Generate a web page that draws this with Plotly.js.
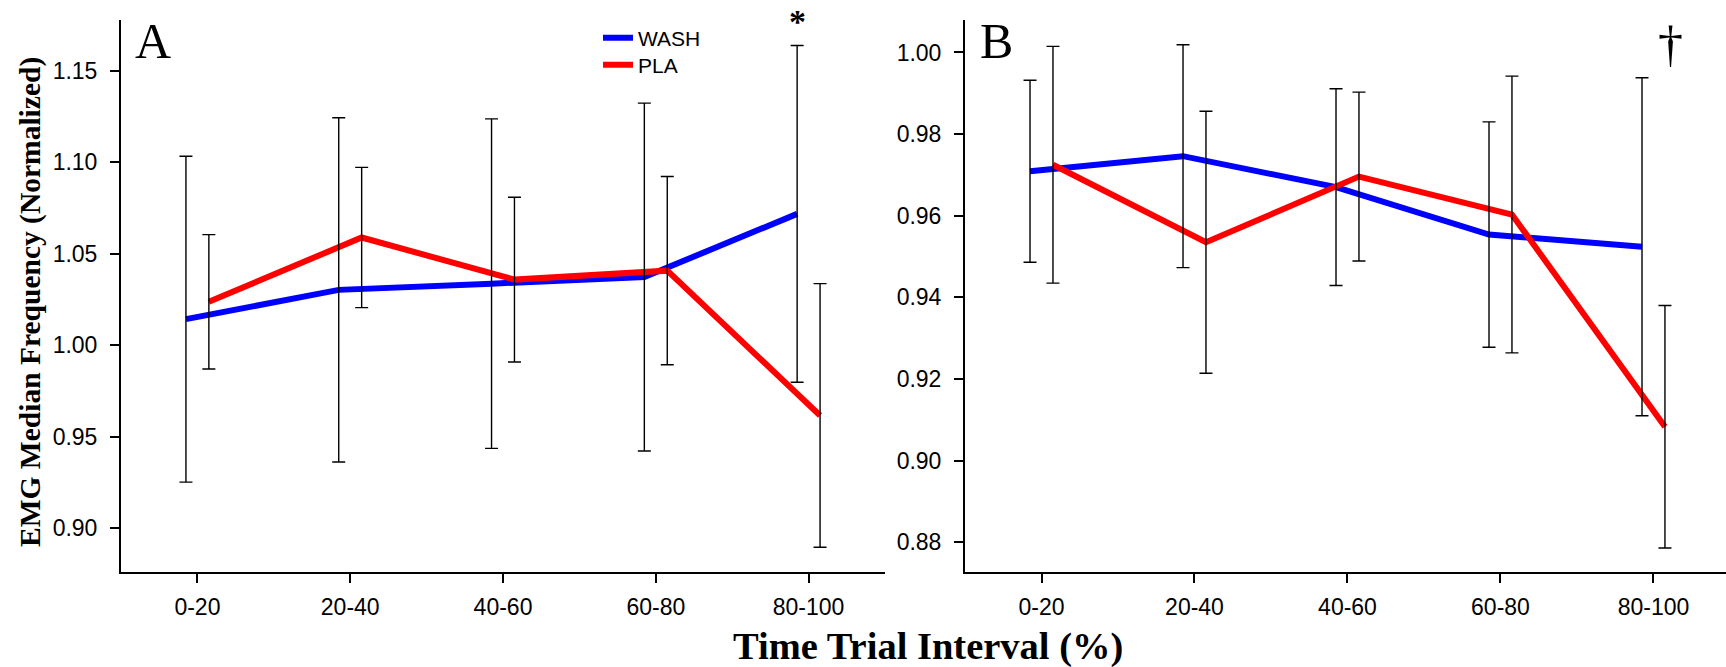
<!DOCTYPE html>
<html><head><meta charset="utf-8">
<script src="https://cdn.plot.ly/plotly-3.0.1.min.js"></script>
<style>html,body{margin:0;padding:0;background:#fff}</style>
</head><body><div id="chart" style="width:1726px;height:667px"></div>
<script>
// ---- data ----
const intervals = ["0-20", "20-40", "40-60", "60-80", "80-100"];
const seriesNames = ["WASH", "PLA"];
// Panel A
const washA    = [1.0143, 1.0303, 1.0337, 1.0373, 1.0718];
const washAErr = [0.089, 0.094, 0.090, 0.095, 0.092];
const plaA     = [1.0238, 1.0589, 1.0359, 1.0408, 0.9617];
const plaAErr  = [0.0367, 0.0383, 0.045, 0.0514, 0.072];
// Panel B
const washB    = [0.9709, 0.9746, 0.9670, 0.9554, 0.9524];
const washBErr = [0.0223, 0.0273, 0.0241, 0.0276, 0.0414];
const plaB     = [0.9725, 0.9535, 0.9696, 0.9603, 0.9083];
const plaBErr  = [0.029, 0.0321, 0.0207, 0.0339, 0.0297];
const yTicksA = [0.90, 0.95, 1.00, 1.05, 1.10, 1.15];
const yTicksB = [0.88, 0.90, 0.92, 0.94, 0.96, 0.98, 1.00];

// ---- layout helpers ----
const W = 1726, H = 667;
const px = x => x / W;
const py = y => 1 - y / H;
const OFF = 0.075;
const idx = intervals.map((_, i) => i);
const xs = d => idx.map(i => i + d);

const colors = {WASH: "#0000ff", PLA: "#ff0000"};
const legendOf = {WASH: "legend", PLA: "legend2"};
function lineTrace(name, x, y, xa, ya, show) {
  return {type: "scatter", mode: "lines", name, x, y, xaxis: xa, yaxis: ya,
    line: {color: colors[name], width: 6}, showlegend: show, legendgroup: name,
    legend: legendOf[name], hoverinfo: "skip"};
}
function errTrace(x, y, err, xa, ya) {
  return {type: "scatter", mode: "markers", x, y, xaxis: xa, yaxis: ya,
    marker: {size: 1, opacity: 0}, showlegend: false, hoverinfo: "skip",
    error_y: {type: "data", array: err, symmetric: true, color: "#000",
      thickness: 1.4, width: 6.5}};
}

const traces = [
  lineTrace("WASH", xs(-OFF), washA, "x", "y", true),
  lineTrace("PLA", xs(OFF), plaA, "x", "y", true),
  lineTrace("WASH", xs(-OFF), washB, "x2", "y2", false),
  lineTrace("PLA", xs(OFF), plaB, "x2", "y2", false),
  errTrace(xs(-OFF), washA, washAErr, "x", "y"),
  errTrace(xs(OFF), plaA, plaAErr, "x", "y"),
  errTrace(xs(-OFF), washB, washBErr, "x2", "y2"),
  errTrace(xs(OFF), plaB, plaBErr, "x2", "y2"),
];

const tickFont = {family: "Liberation Sans, Arial, sans-serif", size: 23, color: "#000"};
const axBase = {showline: true, linecolor: "#000", linewidth: 2, ticks: "outside",
  ticklen: 9, tickwidth: 2, tickcolor: "#000", showgrid: false, zeroline: false,
  tickfont: tickFont, fixedrange: true};
const yDom = [py(572), py(20)];
const legFont = {family: "Liberation Sans, Arial, sans-serif", size: 21, color: "#000"};
const legBase = {xanchor: "left", yanchor: "middle", bgcolor: "rgba(0,0,0,0)", font: legFont, itemwidth: 30};

const serif = "Liberation Serif, Times New Roman, serif";
const layout = {
  width: W, height: H, margin: {l: 0, r: 0, t: 0, b: 0},
  paper_bgcolor: "#fff", plot_bgcolor: "rgba(0,0,0,0)",
  showlegend: true,
  legend: Object.assign({}, legBase, {x: px(598), y: py(38)}),
  legend2: Object.assign({}, legBase, {x: px(598), y: py(65)}),
  xaxis: Object.assign({}, axBase, {domain: [px(121), px(885)], range: [-0.5, 4.5],
    tickvals: idx, ticktext: intervals, anchor: "y", ticklabelstandoff: 4}),
  yaxis: Object.assign({}, axBase, {domain: yDom, range: [0.8762, 1.1777],
    tickvals: yTicksA, ticktext: yTicksA.map(v => v.toFixed(2)), anchor: "x", ticklabelstandoff: 8}),
  xaxis2: Object.assign({}, axBase, {domain: [px(965), 1], range: [-0.5, 4.474],
    tickvals: idx, ticktext: intervals, anchor: "y2", ticklabelstandoff: 4}),
  yaxis2: Object.assign({}, axBase, {domain: yDom, range: [0.87272, 1.00796],
    tickvals: yTicksB, ticktext: yTicksB.map(v => v.toFixed(2)), anchor: "x2", ticklabelstandoff: 8}),
  annotations: [
    {text: "A", xref: "paper", yref: "paper", x: px(133), y: py(41), xanchor: "left", yanchor: "middle",
      showarrow: false, font: {family: serif, size: 50, color: "#000"}},
    {text: "B", xref: "paper", yref: "paper", x: px(978), y: py(41), xanchor: "left", yanchor: "middle",
      showarrow: false, font: {family: serif, size: 50, color: "#000"}},
    {text: "*", xref: "x", yref: "paper", x: 4 - OFF, y: py(22), xanchor: "center", yanchor: "middle",
      showarrow: false, font: {family: serif, size: 34, color: "#000", weight: "bold"}},
    {text: "\u2020", xref: "x2", yref: "paper", x: 4 + 0.11, y: py(44), xanchor: "center", yanchor: "middle",
      showarrow: false, font: {family: serif, size: 50, color: "#000"}},
    {text: "EMG Median Frequency (Normalized)", xref: "paper", yref: "paper", x: px(30), y: py(302),
      xanchor: "center", yanchor: "middle", textangle: -90, showarrow: false,
      font: {family: serif, size: 29.5, color: "#000", weight: "bold"}},
    {text: "Time Trial Interval (%)", xref: "paper", yref: "paper", x: px(928), y: py(646),
      xanchor: "center", yanchor: "middle", showarrow: false,
      font: {family: serif, size: 38.5, color: "#000", weight: "bold"}},
  ],
};

Plotly.newPlot("chart", traces, layout, {staticPlot: true, displayModeBar: false});
</script></body></html>
